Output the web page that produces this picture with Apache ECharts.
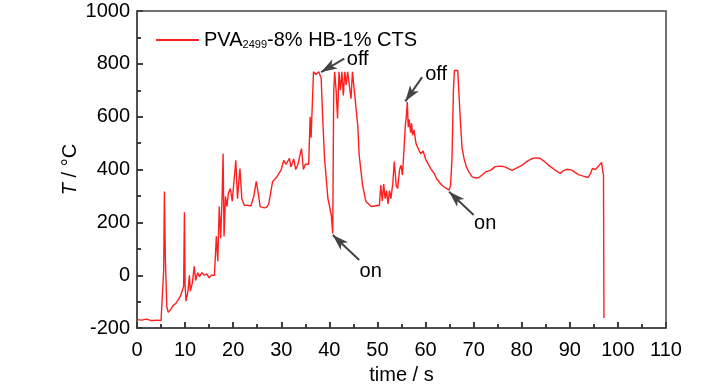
<!DOCTYPE html>
<html>
<head>
<meta charset="utf-8">
<script src="https://cdn.jsdelivr.net/npm/echarts@6/dist/echarts.min.js"></script>
<style>html,body{margin:0;padding:0;background:#fff}#c{width:728px;height:390px}</style>
</head>
<body>
<div id="c"></div>
<script>
// time (s)
const timeS = [0,1,2,3,4,5,5.4,5.55,5.7,5.9,6.2,6.5,7.0,7.5,8.0,8.5,9.0,9.4,9.7,9.86,10.0,10.2,10.6,10.9,11.1,11.5,11.9,12.2,12.6,13.0,13.5,14.0,14.5,15.0,15.5,16.1,16.5,16.8,17.1,17.4,17.7,17.9,18.1,18.4,18.7,19.0,19.4,19.8,20.55,20.9,21.4,21.8,22.3,23.0,23.7,24.3,24.8,25.3,25.6,26.5,27.0,27.4,28.2,29.0,29.5,30.0,30.5,31.0,31.7,32.0,32.6,33.0,33.4,34.2,34.6,35.0,35.7,36.0,36.2,36.7,37.2,37.8,38.3,38.6,39.0,39.7,40.4,40.7,40.9,41.1,41.4,41.7,42.0,42.3,42.6,42.9,43.2,43.5,43.8,44.2,44.5,44.8,45.2,45.9,46.2,46.9,47.6,48.7,50.4,50.7,51.0,51.3,51.6,51.9,52.2,52.5,52.8,53.2,53.5,53.9,54.2,54.6,54.9,55.2,55.5,55.8,56.0,56.2,56.4,56.6,56.9,57.1,57.3,57.6,58.0,58.3,58.7,59.0,59.5,60.0,60.7,61.2,61.8,62.3,62.8,63.3,63.8,64.4,64.9,65.2,65.5,65.8,66.0,66.7,66.9,67.3,67.6,68.0,68.5,69.0,69.7,70.0,70.5,71.1,71.4,72.5,73.5,74.5,75.6,76.5,78.0,79.4,80.2,81.1,82.0,82.8,83.8,84.6,85.6,86.8,88.0,88.6,89.4,90.4,91.8,92.8,93.8,94.3,94.7,95.3,95.8,96.2,96.6,96.8,97.0,97.1];
// temperature (°C)
const tempC = [-168,-170,-166,-172,-170,-171,-170,20,317,60,-120,-140,-130,-115,-108,-95,-80,-60,-40,238,-40,-98,-60,0,-60,-30,34,-20,10,-5,10,0,5,-10,0,0,147,53,260,140,300,460,147,298,260,310,328,280,435,290,404,290,265,265,262,300,355,300,260,255,258,270,355,370,385,400,435,420,442,410,440,400,416,479,400,420,420,600,520,770,760,770,745,600,442,290,228,158,694,770,700,593,770,700,770,680,770,720,770,770,668,770,770,567,454,341,279,260,265,341,280,345,290,320,270,320,290,350,430,340,328,400,416,380,470,567,600,656,560,590,540,575,530,550,500,486,470,460,470,440,416,400,385,365,354,342,335,328,322,340,442,700,775,775,700,567,480,442,410,391,372,373,368,370,366,391,397,411,413,410,397,410,418,431,440,444,443,432,416,400,385,395,401,398,381,375,370,385,404,400,410,418,427,400,380,-162];

const xTicks = {min: 0, max: 110, step: 10};
const yTicks = {min: -200, max: 1000, step: 200};
// tick positions (major and minor) along each axis
const xMajorTicks = [10, 20, 30, 40, 50, 60, 70, 80, 90, 100];
const xMinorTicks = [5, 15, 25, 35, 45, 55, 65, 75, 85, 95, 105];
const yMajorTicks = [0, 200, 400, 600, 800];
const yMinorTicks = [-100, 100, 300, 500, 700, 900];

// annotations in data coordinates: label text, label position, arrow tail, arrow head
const annoText = ['off', 'off', 'on', 'on'];
const annoLabelAt = [[45.9, 815], [62.2, 761], [48.6, 13], [72.4, 196]];
const annoTail = [[43.1, 820], [59.3, 750], [46.2, 58], [70.0, 228]];
const annoHead = [[38.3, 769], [55.8, 658], [40.7, 152], [64.9, 316]];

const FONT = "'Liberation Sans', Arial, sans-serif";
const FS = 20;
const GRID = {left: 137, right: 62, top: 11, bottom: 61};
const W = 728, H = 390;
const chart = echarts.init(document.getElementById('c'), null, {renderer: 'canvas'});

// tick lengths in pixels, converted into axis units through the plot size
const plotW = W - GRID.left - GRID.right, plotH = H - GRID.top - GRID.bottom;
const xPerPx = (xTicks.max - xTicks.min) / plotW;
const yPerPx = (yTicks.max - yTicks.min) / plotH;
const tickStyle = {color: '#333', width: 1.5, type: 'solid'};
function tickSeg(a, b) {
  return [{coord: a, symbol: 'none', lineStyle: tickStyle}, {coord: b, symbol: 'none'}];
}
const tickLines = []
  .concat(xMajorTicks.map(v => tickSeg([v, yTicks.min], [v, yTicks.min + 6 * yPerPx])))
  .concat(xMinorTicks.map(v => tickSeg([v, yTicks.min], [v, yTicks.min + 4 * yPerPx])))
  .concat(yMajorTicks.map(v => tickSeg([xTicks.min, v], [xTicks.min + 6 * xPerPx, v])))
  .concat(yMinorTicks.map(v => tickSeg([xTicks.min, v], [xTicks.min + 4 * xPerPx, v])));

function axisParts() {
  return {
    axisLine: {show: true, onZero: false, lineStyle: {color: '#444', width: 1.5}},
    axisTick: {show: true, inside: true, length: 6, lineStyle: {color: '#333', width: 1.5}},
    minorTick: {show: true, splitNumber: 2, length: 4, lineStyle: {color: '#333', width: 1.5}},
    splitLine: {show: false},
    minorSplitLine: {show: false}
  };
}

const series = [{
  name: 'PVA',
  type: 'line',
  data: timeS.map((t, i) => [t, tempC[i]]),
  symbol: 'none',
  lineStyle: {color: '#ff1f1f', width: 1.4},
  itemStyle: {color: '#ff1f1f'},
  markLine: {
    silent: true,
    animation: false,
    symbol: ['none', 'none'],
    lineStyle: {color: '#444', width: 2, type: 'solid'},
    label: {show: false},
    emphasis: {disabled: true},
    data: annoTail.map((t, i) => [
      {coord: t, symbol: 'none'},
      {coord: annoHead[i], symbol: 'arrow', symbolSize: [8, 16]}
    ]).concat(tickLines)
  },
  markPoint: {
    silent: true,
    animation: false,
    symbol: 'circle',
    symbolSize: 1,
    itemStyle: {color: 'rgba(0,0,0,0)'},
    label: {show: true, position: 'inside', formatter: '{b}', color: '#000', fontSize: FS, fontFamily: FONT},
    data: annoText.map((s, i) => ({name: s, coord: annoLabelAt[i]}))
  }
}];

chart.setOption({
  animation: false,
  backgroundColor: '#fff',
  grid: Object.assign({show: true, borderColor: '#444', borderWidth: 1.5, backgroundColor: 'transparent'}, GRID),
  legend: {
    data: ['PVA'],
    left: 151, top: 25,
    itemWidth: 43, itemHeight: 14, itemGap: 4,
    icon: 'path://M0,6L44,6L44,8L0,8Z',
    formatter: () => '{a|PVA}{s|2499}{a|-8% HB-1% CTS}',
    textStyle: {
      color: '#000', fontFamily: FONT, fontSize: FS,
      rich: {
        a: {fontSize: FS, fontFamily: FONT, color: '#000'},
        s: {fontSize: 11, fontFamily: FONT, color: '#000', verticalAlign: 'bottom', padding: [8, 0, 0, 0]}
      }
    }
  },
  xAxis: [Object.assign(axisParts(), {
    type: 'value', min: xTicks.min, max: xTicks.max, interval: xTicks.step,
    name: 'time / s', nameLocation: 'middle', nameGap: 36,
    nameTextStyle: {color: '#000', fontSize: FS, fontFamily: FONT},
    axisLabel: {show: true, color: '#000', fontSize: FS, fontFamily: FONT, margin: 12, formatter: v => String(v)}
  })],
  yAxis: [Object.assign(axisParts(), {
    type: 'value', min: yTicks.min, max: yTicks.max, interval: yTicks.step,
    name: '{i|T} / °C', nameLocation: 'middle', nameGap: 57, nameRotate: 90, nameMoveOverlap: false,
    nameTextStyle: {
      color: '#000', fontSize: FS, fontFamily: FONT,
      rich: {i: {fontStyle: 'italic', fontSize: FS, fontFamily: FONT, color: '#000'}}
    },
    axisLabel: {show: true, color: '#000', fontSize: FS, fontFamily: FONT, margin: 7, formatter: v => String(v)}
  })],
  series: series
});
</script>
</body>
</html>
